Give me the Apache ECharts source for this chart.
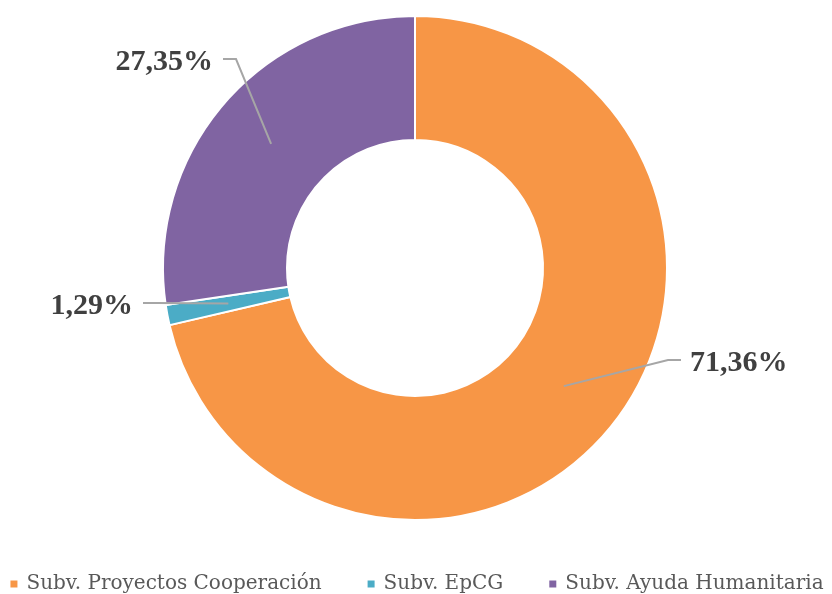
<!DOCTYPE html>
<html>
<head>
<meta charset="utf-8">
<title>Subvenciones</title>
<script src="https://cdn.jsdelivr.net/npm/echarts@6/dist/echarts.min.js"></script>
<style>
  html, body { margin: 0; padding: 0; background: #fff; }
  #chart { width: 832px; height: 594px; }
</style>
</head>
<body>
<div id="chart"></div>
<script>
// datos del gráfico
const categories = ['Subv. Proyectos Cooperación', 'Subv. EpCG', 'Subv. Ayuda Humanitaria'];
const values = [71.36, 1.29, 27.35];
const colors = ['#F79646', '#4BACC6', '#8064A2'];

// posición de las etiquetas (x, y, alineación)
const labelPos = [
  { x: 690, y: 363, align: 'left' },
  { x: 133, y: 306, align: 'right' },
  { x: 213, y: 62, align: 'right' }
];

const center = [415, 268];
const fmt = v => v.toFixed(2).replace('.', ',') + '%';

const chart = echarts.init(document.getElementById('chart'));

const pieData = categories.map((name, i) => ({
  name: name,
  value: values[i],
  itemStyle: { color: colors[i] }
}));

const option = {
  animation: false,
  legend: {
    data: categories,
    left: 'center',
    top: 574,
    padding: 0,
    icon: 'rect',
    itemWidth: 9,
    itemHeight: 9,
    itemGap: 44,
    selectedMode: false,
    textStyle: {
      fontFamily: 'DejaVu Serif',
      fontSize: 20,
      color: '#595959',
      padding: [0, 0, 0, 3]
    }
  },
  series: [
    {
      type: 'pie',
      center: center,
      radius: [128, 252],
      startAngle: 90,
      clockwise: true,
      silent: true,
      z: 2,
      itemStyle: { borderColor: '#fff', borderWidth: 2 },
      label: { show: false },
      labelLine: { show: false },
      data: pieData
    },
    {
      // serie transparente: las líneas de etiqueta salen del centro del anillo
      type: 'pie',
      center: center,
      radius: [0, 190],
      startAngle: 90,
      clockwise: true,
      silent: true,
      z: 5,
      avoidLabelOverlap: false,
      itemStyle: { color: 'rgba(0,0,0,0)' },
      label: {
        show: true,
        position: 'outside',
        formatter: p => fmt(p.value),
        fontFamily: 'Liberation Serif',
        fontWeight: 'bold',
        fontSize: 30,
        color: '#404040'
      },
      labelLine: {
        show: true,
        length: 20,
        length2: 10,
        lineStyle: { color: '#A6A6A6', width: 2 }
      },
      labelLayout: function (params) {
        const pos = labelPos[params.dataIndex];
        const p0 = params.labelLinePoints[0];
        const end = pos.align === 'left' ? pos.x - 9 : pos.x + 10;
        const elbow = pos.align === 'left' ? end - 13 : end + 13;
        const ly = pos.y - 3;
        return {
          x: pos.x,
          y: pos.y,
          align: pos.align,
          verticalAlign: 'middle',
          labelLinePoints: [[p0[0], p0[1]], [elbow, ly], [end, ly]]
        };
      },
      data: pieData.map(d => ({ name: d.name, value: d.value }))
    }
  ]
};

chart.setOption(option);
</script>
</body>
</html>
